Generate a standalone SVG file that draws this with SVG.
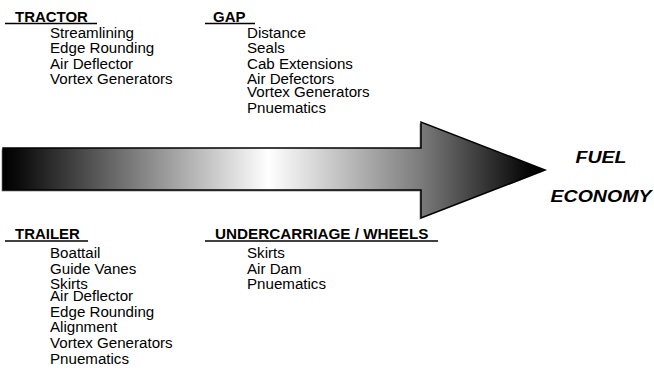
<svg xmlns="http://www.w3.org/2000/svg" width="654" height="372" viewBox="0 0 654 372">
  <style>
    text { font-family: "Liberation Sans", Arial, sans-serif; fill: #000; }
    .h { font-size: 14px; font-weight: bold; }
    .it text { font-size: 14px; }
    .goal { font-size: 17px; font-weight: bold; font-style: italic; text-anchor: middle; }
    .ul { stroke: #000; stroke-width: 1.3; }
  </style>
  <defs>
    <linearGradient id="shade" gradientUnits="userSpaceOnUse" x1="3" y1="0" x2="545" y2="0">
      <stop offset="0" stop-color="#000"/>
      <stop offset="0.03" stop-color="#0c0c0c"/>
      <stop offset="0.49" stop-color="#fff"/>
      <stop offset="0.77" stop-color="#7c7c7c"/>
      <stop offset="0.97" stop-color="#050505"/>
      <stop offset="1" stop-color="#000"/>
    </linearGradient>
  </defs>

  <g id="arrow">
    <polygon points="1.5,149.5 419.5,149.5 419.5,123.5 543.5,171.5 419.5,219.5 419.5,191.5 1.5,191.5" fill="#999"/>
    <polygon points="3,148 421,148 421,122 545,170 421,218 421,190 3,190" fill="url(#shade)" stroke="#000" stroke-width="1.5" stroke-linejoin="miter"/>
  </g>

  <g id="tractor">
    <line class="ul" x1="5" y1="23.5" x2="97" y2="23.5"/>
    <g transform="translate(15 0) scale(1.07 1)"><text class="h" x="0" y="22">TRACTOR</text></g>
    <g class="it" transform="translate(50 0) scale(1.08 1)">
      <text x="0" y="38">Streamlining</text>
      <text x="0" y="53.5">Edge Rounding</text>
      <text x="0" y="69">Air Deflector</text>
      <text x="0" y="84.5">Vortex Generators</text>
    </g>
  </g>

  <g id="gap">
    <line class="ul" x1="205" y1="23.5" x2="255" y2="23.5"/>
    <g transform="translate(213 0) scale(1.07 1)"><text class="h" x="0" y="22">GAP</text></g>
    <g class="it" transform="translate(247 0) scale(1.08 1)">
      <text x="0" y="38">Distance</text>
      <text x="0" y="53.5">Seals</text>
      <text x="0" y="69">Cab Extensions</text>
      <text x="0" y="84.5">Air Defectors</text>
      <text x="0" y="97">Vortex Generators</text>
      <text x="0" y="113.5">Pnuematics</text>
    </g>
  </g>

  <g id="trailer">
    <line class="ul" x1="5" y1="241" x2="88" y2="241"/>
    <g transform="translate(15 0) scale(1.07 1)"><text class="h" x="0" y="239">TRAILER</text></g>
    <g class="it" transform="translate(50 0) scale(1.08 1)">
      <text x="0" y="258.5">Boattail</text>
      <text x="0" y="274">Guide Vanes</text>
      <text x="0" y="289.5">Skirts</text>
      <text x="0" y="301.5">Air Deflector</text>
      <text x="0" y="317">Edge Rounding</text>
      <text x="0" y="332.5">Alignment</text>
      <text x="0" y="348">Vortex Generators</text>
      <text x="0" y="364.5">Pnuematics</text>
    </g>
  </g>

  <g id="undercarriage">
    <line class="ul" x1="205" y1="241" x2="438" y2="241"/>
    <g transform="translate(215 0) scale(1.09 1)"><text class="h" x="0" y="239">UNDERCARRIAGE / WHEELS</text></g>
    <g class="it" transform="translate(247 0) scale(1.08 1)">
      <text x="0" y="258.5">Skirts</text>
      <text x="0" y="274">Air Dam</text>
      <text x="0" y="289.5">Pnuematics</text>
    </g>
  </g>

  <g id="fuel-economy" transform="translate(601 0) scale(1.15 1)">
    <text class="goal" x="0" y="163">FUEL</text>
    <text class="goal" x="0" y="202">ECONOMY</text>
  </g>
</svg>
